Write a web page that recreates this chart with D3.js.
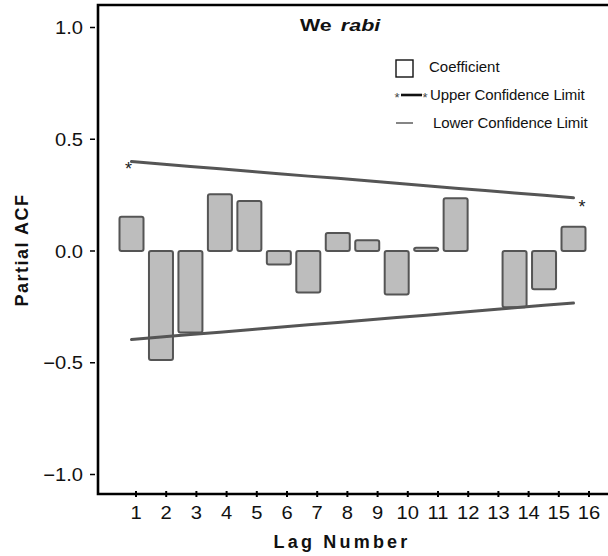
<!DOCTYPE html>
<html>
<head>
<meta charset="utf-8">
<script src="https://cdn.jsdelivr.net/npm/d3@7"></script>
<style>
  html, body { margin: 0; padding: 0; background: #fff; }
  svg { display: block; font-family: Arial, "Liberation Sans", sans-serif; }
</style>
</head>
<body>
<svg id="chart" width="608" height="556"></svg>
<script>
// Partial autocorrelation by lag
const lags = [1, 2, 3, 4, 5, 6, 7, 8, 9, 10, 11, 12, 13, 14, 15, 16];
const coefficients = [0.153, -0.488, -0.365, 0.254, 0.224, -0.060, -0.186, 0.081,
                      0.048, -0.195, 0.015, 0.236, 0.000, -0.252, -0.171, 0.108];
const upperLimit = [0.400, 0.389, 0.378, 0.368, 0.357, 0.346, 0.335, 0.325,
                    0.314, 0.303, 0.292, 0.281, 0.271, 0.260, 0.249, 0.238];
const lowerLimit = [-0.396, -0.385, -0.374, -0.363, -0.352, -0.341, -0.330, -0.320,
                    -0.309, -0.298, -0.287, -0.276, -0.265, -0.254, -0.243, -0.233];
const yTicks = [1.0, 0.5, 0.0, -0.5, -1.0];
const legendLabels = ["Coefficient", "Upper Confidence Limit", "Lower Confidence Limit"];
const titleParts = ["We", "rabi"];

const svg = d3.select("#chart");

const frame = { left: 98, top: 5, right: 608, bottom: 494 };

// value axis
const y = d3.scaleLinear().domain([-1, 1]).range([474.5, 27.5]);
// bar / limit positions
const xBar = d3.scaleLinear().domain([1, 16]).range([131.5, 573.5]);
// lag axis tick positions
const xAxis = d3.scaleLinear().domain([1, 16]).range([136, 589]);

const defs = svg.append("defs");
defs.append("filter").attr("id", "soft")
  .attr("x", "-10%").attr("y", "-10%").attr("width", "120%").attr("height", "120%")
  .append("feGaussianBlur").attr("stdDeviation", 0.6);

// zero reference line
svg.append("line")
  .attr("x1", frame.left).attr("x2", frame.right)
  .attr("y1", y(0)).attr("y2", y(0))
  .attr("stroke", "#6e6e6e").attr("stroke-width", 2.2)
  .attr("filter", "url(#soft)");

// coefficient bars
const barW = 24;
svg.append("g").attr("filter", "url(#soft)")
  .selectAll("rect").data(lags.map((l, i) => ({ lag: l, v: coefficients[i] })))
  .join("rect")
  .attr("x", d => xBar(d.lag) - barW / 2)
  .attr("y", d => Math.min(y(d.v), y(0)))
  .attr("width", barW)
  .attr("height", d => Math.abs(y(d.v) - y(0)))
  .attr("rx", 2)
  .attr("fill", "#bdbdbd")
  .attr("stroke", "#555")
  .attr("stroke-width", 2)
  .attr("display", d => Math.abs(d.v) < 0.001 ? "none" : null);

// confidence limits
const limitLine = d3.line().x((d, i) => xBar(lags[i])).y(d => y(d));
[upperLimit, lowerLimit].forEach(series => {
  svg.append("path")
    .attr("d", limitLine(series))
    .attr("fill", "none")
    .attr("stroke", "#555")
    .attr("stroke-width", 3)
    .attr("stroke-linecap", "round")
    .attr("filter", "url(#soft)");
});

// end markers of the upper limit
svg.append("text").attr("x", xBar(1) - 3).attr("y", y(upperLimit[0]) + 13)
  .attr("text-anchor", "middle").attr("font-size", 18).attr("fill", "#222").text("*");
svg.append("text").attr("x", xBar(16) + 8.5).attr("y", y(upperLimit[15]) + 15)
  .attr("text-anchor", "middle").attr("font-size", 18).attr("fill", "#222").text("*");

// frame
svg.append("path")
  .attr("d", `M${frame.right},${frame.top}H${frame.left}V${frame.bottom}H${frame.right}`)
  .attr("fill", "none").attr("stroke", "#000").attr("stroke-width", 2.6);

// y ticks and labels
const yg = svg.append("g");
yTicks.forEach(t => {
  yg.append("line").attr("x1", 90).attr("x2", 95)
    .attr("y1", y(t)).attr("y2", y(t)).attr("stroke", "#000").attr("stroke-width", 1.5);
  yg.append("text")
    .attr("transform", `translate(83,${y(t) + 6.5}) scale(1.12,1)`)
    .attr("text-anchor", "end").attr("font-size", 18).attr("fill", "#111")
    .text(d3.format(".1f")(t));
});

// x ticks and labels
const xg = svg.append("g");
lags.forEach(l => {
  xg.append("line").attr("x1", xAxis(l)).attr("x2", xAxis(l))
    .attr("y1", frame.bottom - 3).attr("y2", frame.bottom + 3)
    .attr("stroke", "#000").attr("stroke-width", 2);
  xg.append("text")
    .attr("transform", `translate(${xAxis(l)},${519}) scale(1.12,1)`)
    .attr("text-anchor", "middle").attr("font-size", 18).attr("fill", "#111")
    .text(l);
});

// axis titles
svg.append("text").attr("x", 342).attr("y", 548)
  .attr("text-anchor", "middle").attr("font-size", 18).attr("font-weight", "bold")
  .attr("letter-spacing", 3.2).attr("fill", "#111").text("Lag Number");
svg.append("text")
  .attr("transform", "translate(28,250) rotate(-90)")
  .attr("text-anchor", "middle").attr("font-size", 18).attr("font-weight", "bold")
  .attr("letter-spacing", 1.5).attr("fill", "#111").text("Partial ACF");

// chart title
const title = svg.append("text")
  .attr("transform", "translate(300,31) scale(1.3,1)")
  .attr("font-size", 16.5).attr("font-weight", "bold").attr("fill", "#111");
title.append("tspan").text(titleParts[0]);
title.append("tspan").attr("dx", 7).attr("font-style", "italic").text(titleParts[1]);

// legend
const lg = svg.append("g").attr("font-size", 15).attr("fill", "#111");
lg.append("rect").attr("x", 396).attr("y", 60).attr("width", 17).attr("height", 17)
  .attr("fill", "#fff").attr("stroke", "#111").attr("stroke-width", 1.4);
lg.append("text").attr("x", 429).attr("y", 72).text(legendLabels[0]);

lg.append("line").attr("x1", 401).attr("x2", 422).attr("y1", 95).attr("y2", 95)
  .attr("stroke", "#111").attr("stroke-width", 2.6);
lg.append("text").attr("x", 397).attr("y", 102).attr("text-anchor", "middle")
  .attr("font-size", 13).attr("fill", "#444").text("*");
lg.append("text").attr("x", 425).attr("y", 102).attr("text-anchor", "middle")
  .attr("font-size", 13).attr("fill", "#444").text("*");
lg.append("text").attr("x", 430).attr("y", 100).attr("letter-spacing", -0.1).text(legendLabels[1]);

lg.append("line").attr("x1", 396).attr("x2", 413).attr("y1", 123).attr("y2", 123)
  .attr("stroke", "#333").attr("stroke-width", 1.2);
lg.append("text").attr("x", 433).attr("y", 128).attr("letter-spacing", -0.1).text(legendLabels[2]);
</script>
</body>
</html>
